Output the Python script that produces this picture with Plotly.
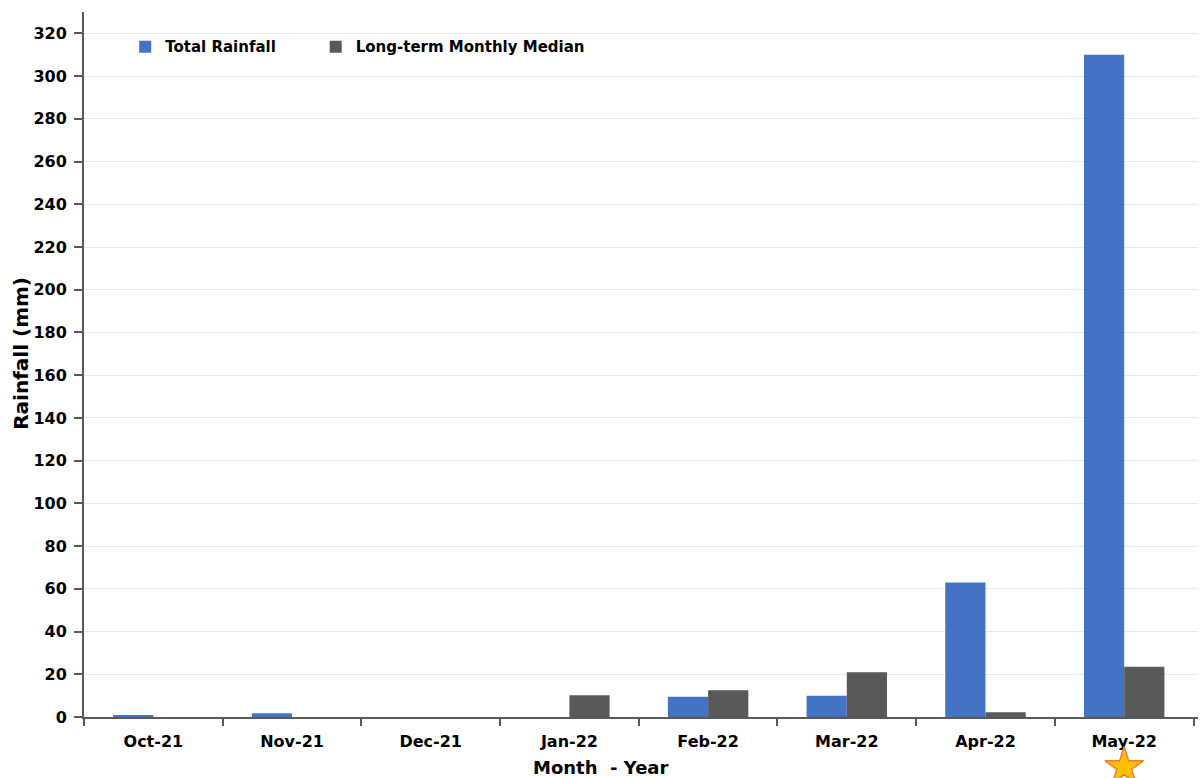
import plotly.graph_objects as go

months = ["Oct-21", "Nov-21", "Dec-21", "Jan-22", "Feb-22", "Mar-22", "Apr-22", "May-22"]
total_rainfall = [0.5, 1.8, 0, 0, 9.5, 10, 63, 310]
monthly_median = [0, 0, 0, 10.2, 12.5, 21, 2.2, 23.5]
y_ticks = list(range(0, 340, 20))
star_month = ["May-22"]
star_y = [0]

FONT = "DejaVu Sans"

fig = go.Figure()
fig.add_trace(go.Bar(x=months, y=total_rainfall, name="Total Rainfall", legend="legend",
                     marker=dict(color="#4472C4", line=dict(width=0))))
fig.add_trace(go.Bar(x=months, y=monthly_median, name="Long-term Monthly Median", legend="legend2",
                     marker=dict(color="#595959", line=dict(width=0))))
# star marker under May-22 in a small strip subplot below the axis
fig.add_trace(go.Scatter(x=star_month, y=star_y, xaxis="x2", yaxis="y2", mode="markers",
                         showlegend=False, cliponaxis=False, hoverinfo="skip",
                         marker=dict(symbol="star", size=29, color="#FFC000",
                                     line=dict(color="#ED7D31", width=1.5))))

# x-axis title
fig.add_annotation(x=0.464, xref="paper", y=11 / 766, yref="paper", yanchor="middle",
                   text="Month  - Year", showarrow=False,
                   font=dict(size=18, family=FONT, weight="bold", color="black"))
# y-axis title
fig.add_annotation(x=-0.0566, xref="paper", y=0.555, yref="paper", xanchor="center", yanchor="middle",
                   text="Rainfall (mm)", showarrow=False, textangle=-90,
                   font=dict(size=20, family=FONT, weight="bold", color="black"))

leg_font = dict(size=15, family=FONT, weight="bold")
fig.update_layout(
    width=1201, height=778,
    margin=dict(l=84, r=3, t=12, b=0, autoexpand=False),
    paper_bgcolor="white", plot_bgcolor="white",
    barmode="group", bargap=0.42, bargroupgap=0,
    font=dict(family=FONT, size=16, color="black", weight="bold"),
    legend=dict(orientation="h", x=0.037, y=0.976, xanchor="left", yanchor="top",
                font=leg_font, bgcolor="rgba(0,0,0,0)", itemwidth=30),
    legend2=dict(orientation="h", x=0.208, y=0.976, xanchor="left", yanchor="top",
                 font=leg_font, bgcolor="rgba(0,0,0,0)", itemwidth=30),
    xaxis=dict(showline=True, linecolor="#595959", linewidth=2, anchor="y", automargin=False,
               categoryorder="array", categoryarray=months,
               ticks="outside", tickson="boundaries", ticklen=7, tickwidth=2, tickcolor="#595959",
               showgrid=False, ticklabelstandoff=9,
               tickfont=dict(size=16, family=FONT, weight="bold")),
    yaxis=dict(domain=[61 / 766, 1], range=[0, 330], tickvals=y_ticks, automargin=False,
               showline=True, linecolor="#595959", linewidth=2,
               ticks="outside", ticklen=8, tickwidth=2, tickcolor="#595959",
               showgrid=True, gridcolor="#E8E8E8", gridwidth=1, zeroline=False,
               ticklabelstandoff=4,
               tickfont=dict(size=16, family=FONT, weight="bold")),
    xaxis2=dict(matches="x", anchor="y2", visible=False, automargin=False,
                categoryorder="array", categoryarray=months),
    yaxis2=dict(domain=[0, 0.06], range=[-0.314, 1.0], visible=False, fixedrange=True,
                automargin=False),
)

fig.write_html("out.html")
